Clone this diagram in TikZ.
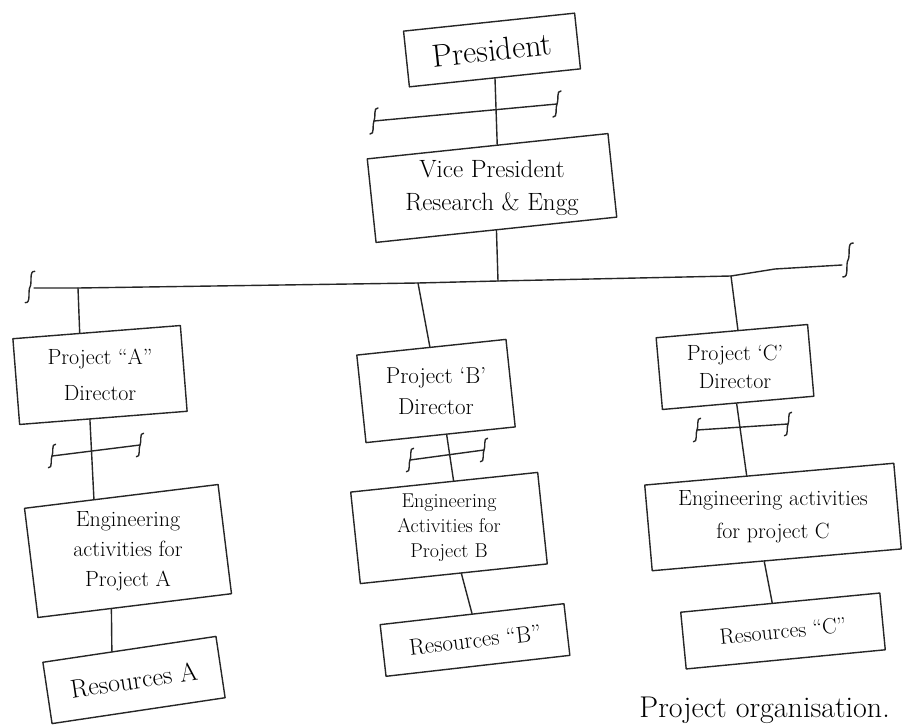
\documentclass[tikz,border=0pt]{standalone}
\usetikzlibrary{calc}
\begin{document}
\begin{tikzpicture}[x=1pt,y=-1pt,
  ink/.style={draw=black!85, line width=1.4pt, line cap=round, line join=round},
  frame/.style={ink, rectangle, inner sep=0pt},
  lbl/.style={align=center, inner sep=1pt},
  squig/.pic={\draw[ink] (4,-13) .. controls (-1,-14) and (2,-3) .. (0,0)
                          .. controls (-2,3) and (1,14) .. (-4,13);}
]
\useasboundingbox[fill=white] (0,0) rectangle (902,727);

% ---- box outlines, slightly tilted as drawn by hand ----
\node[frame, rotate=6,   minimum width=172pt, minimum height=56pt]  (pres) at (492,50)  {};
\node[frame, rotate=6,   minimum width=242pt, minimum height=84pt]  (vp)   at (492,188) {};
\node[frame, rotate=4.5, minimum width=168pt, minimum height=86pt]  (pa)   at (100,375) {};
\node[frame, rotate=6,   minimum width=150pt, minimum height=88pt]  (pb)   at (436,391) {};
\node[frame, rotate=5,   minimum width=152pt, minimum height=72pt]  (pc)   at (735,367) {};
\node[frame, rotate=7,   minimum width=195pt, minimum height=110pt] (ea)   at (128,551) {};
\node[frame, rotate=6,   minimum width=188pt, minimum height=92pt]  (eb)   at (449,528) {};
\node[frame, rotate=5,   minimum width=250pt, minimum height=86pt]  (ec)   at (773,517) {};
\node[frame, rotate=8.5, minimum width=175pt, minimum height=62pt]  (ra)   at (134,680) {};
\node[frame, rotate=6.5, minimum width=185pt, minimum height=52pt]  (rb)   at (475,640) {};
\node[frame, rotate=5.5, minimum width=200pt, minimum height=57pt]  (rc)   at (783,631) {};

% ---- box texts ----
\node[lbl, rotate=6, font=\fontsize{32}{36}\selectfont] (prest) at (pres.center) {President};
\node[lbl, font=\fontsize{25}{33}\selectfont] (vpt) at (vp.center) {Vice President\\Research \& Engg};
\node[lbl, font=\fontsize{22}{36}\selectfont] (pat) at (pa.center) {Project “A”\\Director};
\node[lbl, font=\fontsize{23}{31}\selectfont] (pbt) at (pb.center) {Project ‘B’\\Director};
\node[lbl, font=\fontsize{22}{28}\selectfont] (pct) at (pc.center) {Project ‘C’\\Director};
\node[lbl, font=\fontsize{22}{30}\selectfont] (eat) at (ea.center) {Engineering\\activities for\\Project A};
\node[lbl, font=\fontsize{20}{25}\selectfont] (ebt) at (eb.center) {Engineering\\Activities for\\Project B};
\node[lbl, font=\fontsize{22}{33}\selectfont] (ect) at (ec.center) {Engineering activities\\for project C};
\node[lbl, rotate=8.5, font=\fontsize{26}{30}\selectfont] (rat) at (ra.center) {Resources A};
\node[lbl, rotate=6.5, font=\fontsize{23}{27}\selectfont] (rbt) at (rb.center) {Resources “B”};
\node[lbl, rotate=5.5, font=\fontsize{22}{26}\selectfont] (rct) at (rc.center) {Resources “C”};

% ---- caption ----
\node[anchor=base east, inner sep=0pt, font=\fontsize{30}{30}\selectfont]
      (cap) at (890,717) {Project organisation.};

% ---- president to vice president, with its bracket ----
\draw[ink] ($(pres.south west)!0.5!(pres.south east)$) -- ($(vp.north west)!0.54!(vp.north east)$);
\coordinate (k1l) at (374,121);
\coordinate (k1r) at (557,104);
\draw[ink] (k1l) -- (k1r);
\pic at (k1l) {squig};
\pic at (k1r) {squig};

% ---- main horizontal bar ----
\coordinate (barL) at (34,288);
\coordinate (barA) at (78,288);
\coordinate (barB) at (418,283);
\coordinate (barV) at (498,281);
\coordinate (barC) at (731,276);
\coordinate (barK) at (775,269);
\coordinate (barR) at (842,265);
\draw[ink] (barL) -- (barA) -- (barB) -- (barV) -- (barC) -- (barK) -- (barR);
\pic[scale=1.2] at (30,287) {squig};
\pic[scale=1.3] at (848,260) {squig};
\draw[ink] ($(vp.south west)!0.5!(vp.south east)$) -- (barV);

% ---- bar to the directors ----
\draw[ink] (barA) -- ($(pa.north west)!0.4!(pa.north east)$);
\draw[ink] (barB) -- ($(pb.north west)!0.49!(pb.north east)$);
\draw[ink] (barC) -- ($(pc.north west)!0.54!(pc.north east)$);

% ---- directors to engineering activities ----
\draw[ink] ($(pa.south west)!0.42!(pa.south east)$) -- ($(ea.north west)!0.36!(ea.north east)$);
\draw[ink] ($(pb.south west)!0.54!(pb.south east)$) -- ($(eb.north west)!0.55!(eb.north east)$);
\draw[ink] ($(pc.south west)!0.49!(pc.south east)$) -- ($(ec.north west)!0.41!(ec.north east)$);

% ---- brackets across those links ----
\coordinate (kal) at (52,456);
\coordinate (kar) at (140,445);
\draw[ink] (kal) -- (kar);
\pic[scale=0.9] at (kal) {squig};
\pic[scale=0.9] at (kar) {squig};

\coordinate (kbl) at (410,460);
\coordinate (kbr) at (484,450);
\draw[ink] (kbl) -- (kbr);
\pic[scale=0.9] at (kbl) {squig};
\pic[scale=0.9] at (kbr) {squig};

\coordinate (kcl) at (697,430);
\coordinate (kcr) at (788,424);
\draw[ink] (kcl) -- (kcr);
\pic[scale=0.9] at (kcl) {squig};
\pic[scale=0.9] at (kcr) {squig};

% ---- engineering activities to resources ----
\draw[ink] ($(ea.south west)!0.38!(ea.south east)$) -- ($(ra.north west)!0.4!(ra.north east)$);
\draw[ink] ($(eb.south west)!0.54!(eb.south east)$) -- ($(rb.north west)!0.5!(rb.north east)$);
\draw[ink] ($(ec.south west)!0.45!(ec.south east)$) -- ($(rc.north west)!0.46!(rc.north east)$);
\end{tikzpicture}
\end{document}
